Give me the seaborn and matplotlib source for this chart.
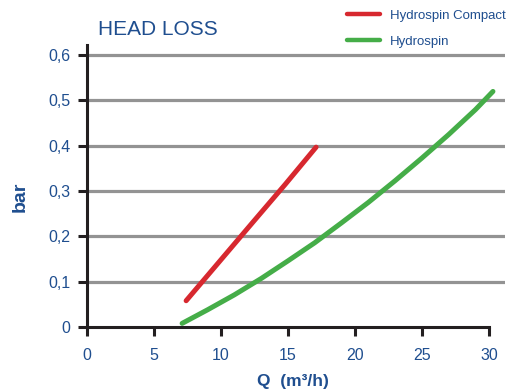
import matplotlib
matplotlib.use("Agg")
import matplotlib.pyplot as plt
import seaborn as sns
import pandas as pd

# Head loss curves (flow in m³/h, pressure drop in bar)
compact_q = [7.4, 9.9, 12.4, 14.8, 17.1]
compact_bar = [0.058, 0.145, 0.232, 0.315, 0.397]

hydrospin_q = [7.1, 9.0, 11.0, 13.0, 15.0, 17.0, 19.0, 21.0, 23.0, 25.0, 27.0, 29.0, 30.3]
hydrospin_bar = [0.008, 0.038, 0.071, 0.107, 0.146, 0.186, 0.230, 0.275, 0.323, 0.373,
                 0.425, 0.480, 0.520]

series_names = ["Hydrospin Compact", "Hydrospin"]
series_colors = ["#d7282f", "#45ad48"]

x_ticks = [0, 5, 10, 15, 20, 25, 30]
y_ticks = [0, 0.1, 0.2, 0.3, 0.4, 0.5, 0.6]
y_tick_labels = ["0", "0,1", "0,2", "0,3", "0,4", "0,5", "0,6"]

df = pd.concat([
    pd.DataFrame({"Q": compact_q, "bar": compact_bar, "model": series_names[0]}),
    pd.DataFrame({"Q": hydrospin_q, "bar": hydrospin_bar, "model": series_names[1]}),
], ignore_index=True)

sns.set_style("white")
plt.rcParams["font.family"] = ["Liberation Sans", "DejaVu Sans"]

blue = "#1f4e8f"
black = "#231f20"
grey = "#939393"

fig = plt.figure(figsize=(5.28, 3.89), dpi=100)
ax = fig.add_axes([87 / 528, 62 / 389, 418 / 528, 282 / 389])

sns.lineplot(data=df, x="Q", y="bar", hue="model", hue_order=series_names,
             palette=series_colors, linewidth=3.6, sort=False, legend=False, ax=ax)

ax.set_xlim(0, 31.2)
ax.set_ylim(0, 0.6225)

ax.set_xticks(x_ticks)
ax.set_xticklabels([str(v) for v in x_ticks])
ax.set_yticks(y_ticks)
ax.set_yticklabels(y_tick_labels)

ax.grid(axis="y", color=grey, linewidth=2.3)
ax.grid(axis="x", visible=False)
ax.set_axisbelow(True)
ax.get_ygridlines()[0].set_visible(False)

for side in ("top", "right"):
    ax.spines[side].set_visible(False)
for side in ("left", "bottom"):
    ax.spines[side].set_color(black)
    ax.spines[side].set_linewidth(2.2)
ax.spines["bottom"].set_bounds(0, 30)

ax.tick_params(axis="both", which="major", direction="out", length=6.5, width=2.2,
               color=black, labelcolor=blue, labelsize=11.5)
ax.tick_params(axis="y", pad=5.5)
ax.tick_params(axis="x", pad=8.5)
ax.tick_params(left=True, bottom=True)

ax.set_xlabel("Q  (m³/h)", fontsize=12.5, fontweight="bold", color=blue)
ax.set_ylabel("bar", fontsize=14, fontweight="bold", color=blue)
ax.xaxis.set_label_coords((293 - 87) / 418, -47 / 282)
ax.yaxis.set_label_coords((29 - 87) / 418, (327 - 197) / 282)

fig.text(98 / 528, 1 - 35 / 389, "HEAD LOSS", fontsize=15, color=blue,
         ha="left", va="baseline")

handles = [plt.Line2D([], [], color=c, linewidth=3.2) for c in series_colors]
fig.legend(handles, series_names, loc="upper left",
           bbox_to_anchor=(347 / 528, 1 - 9.5 / 389), frameon=False,
           fontsize=9.5, labelcolor=blue, handlelength=2.5, handletextpad=0.75,
           labelspacing=1.05, borderpad=0, borderaxespad=0)

fig.savefig("out.png", dpi=100)
